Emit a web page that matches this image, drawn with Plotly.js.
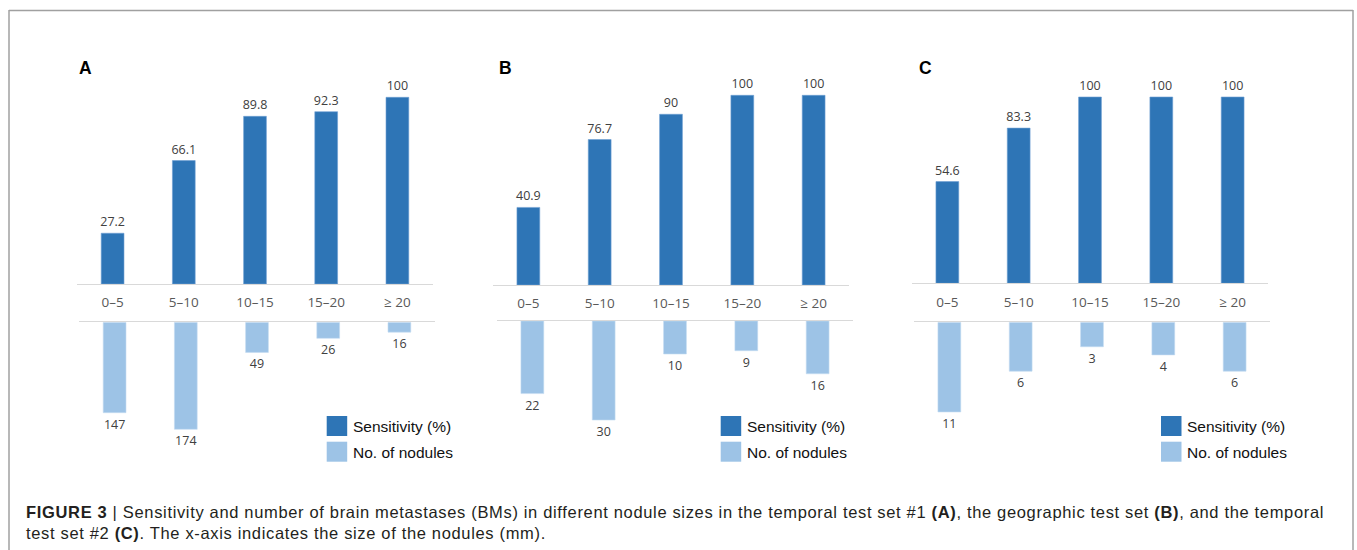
<!DOCTYPE html>
<html><head><meta charset="utf-8">
<script src="https://cdn.plot.ly/plotly-3.0.1.min.js"></script>
<style>html,body{margin:0;padding:0;background:#fff;}#chart{width:1357px;height:550px;}</style>
</head><body><div id="chart"></div>
<script>
// ---- data ----
const categories = ['0–5', '5–10', '10–15', '15–20', '≥ 20'];
const sensitivityA = [27.2, 66.1, 89.8, 92.3, 100];
const nodulesA = [147, 174, 49, 26, 16];
const sensitivityB = [40.9, 76.7, 90, 100, 100];
const nodulesB = [22, 30, 10, 9, 16];
const sensitivityC = [54.6, 83.3, 100, 100, 100];
const nodulesC = [11, 6, 3, 4, 6];
const panelLabels = ['A', 'B', 'C'];
const legendLabels = ['Sensitivity (%)', 'No. of nodules'];

// ---- geometry (pixels) ----
const W = 1357, H = 550;
const fx = p => p / W, fy = p => 1 - p / H;
const geo = [
  {ux:[77,433],    lx:[79,435],     base:284,   ppuU:1.867, line:322.3, ppuL:0.615, letterX:77,  legX:326.7},
  {ux:[492.7,849.3], lx:[496.7,853.3], base:285, ppuU:1.897, line:321,  ppuL:3.30,  letterX:497.5, legX:720.7},
  {ux:[911.7,1268.3], lx:[913.7,1270.3], base:283.3, ppuU:1.863, line:322.3, ppuL:8.15, letterX:916.5, legX:1161}
];
const TOP = 60, BOT = 480;
const dark = '#2E75B6', light = '#9DC3E6';
const sens = [sensitivityA, sensitivityB, sensitivityC];
const nods = [nodulesA, nodulesB, nodulesC];

const data = [];
const layout = {
  width: W, height: H, margin: {l:0, r:0, t:0, b:0},
  paper_bgcolor: '#fff', plot_bgcolor: 'rgba(0,0,0,0)',
  showlegend: false, bargap: 0.68,
  shapes: [], annotations: []
};
const labelFont = {family: 'Open Sans', size: 12.5, color: '#404040'};

geo.forEach((g, i) => {
  const nu = 2 * i + 1, nl = 2 * i + 2;
  data.push({
    type: 'bar', x: categories, y: sens[i], xaxis: 'x' + nu, yaxis: 'y' + nu,
    marker: {color: dark, line: {color: '#6fa0d4', width: 0.6}},
    text: sens[i].map(String), textposition: 'outside', constraintext: 'none',
    textfont: labelFont, cliponaxis: false, hoverinfo: 'x+y'
  });
  data.push({
    type: 'bar', x: categories, y: nods[i], xaxis: 'x' + nl, yaxis: 'y' + nl,
    marker: {color: light, line: {color: '#c5dcf1', width: 0.6}},
    text: nods[i].map(String), textposition: 'outside', constraintext: 'none',
    textfont: labelFont, cliponaxis: false, hoverinfo: 'x+y'
  });
  layout['xaxis' + nu] = {
    domain: [fx(g.ux[0]), fx(g.ux[1])], anchor: 'y' + nu, type: 'category',
    showline: true, linecolor: '#d9d9d9', linewidth: 1, ticks: '', showgrid: false,
    zeroline: false, tickfont: {family: 'Open Sans', size: 13.5, color: '#595959'},
    ticklabelstandoff: 6, fixedrange: true
  };
  layout['yaxis' + nu] = {
    domain: [fy(g.base), fy(TOP)], anchor: 'x' + nu,
    range: [0, (g.base - TOP) / g.ppuU], visible: false, fixedrange: true
  };
  layout['xaxis' + nl] = {
    domain: [fx(g.lx[0]), fx(g.lx[1])], anchor: 'y' + nl, type: 'category', side: 'top',
    showline: true, linecolor: '#d9d9d9', linewidth: 1, ticks: '', showticklabels: false,
    showgrid: false, zeroline: false, fixedrange: true
  };
  layout['yaxis' + nl] = {
    domain: [fy(BOT), fy(g.line)], anchor: 'x' + nl,
    range: [(BOT - g.line) / g.ppuL, 0], visible: false, fixedrange: true
  };
  // panel letter
  layout.annotations.push({
    xref: 'paper', yref: 'paper', x: fx(g.letterX), y: fy(68.5), xanchor: 'left', yanchor: 'middle',
    text: '<b>' + panelLabels[i] + '</b>', showarrow: false,
    font: {family: 'Liberation Sans', size: 17.5, color: '#000'}
  });
  // legend
  [[416, dark], [441.7, light]].forEach(([ty, col], k) => {
    layout.shapes.push({
      type: 'rect', xref: 'paper', yref: 'paper', x0: fx(g.legX), x1: fx(g.legX + 20.5),
      y0: fy(ty), y1: fy(ty + 20), fillcolor: col, line: {width: 0}
    });
    layout.annotations.push({
      xref: 'paper', yref: 'paper', x: fx(g.legX + 24), y: fy(ty + 10.5), xanchor: 'left', yanchor: 'middle',
      text: legendLabels[k], showarrow: false,
      font: {family: 'Liberation Sans', size: 15.5, color: '#111'}
    });
  });
});

// frame
const frameCol = '#a0a0a0';
layout.shapes.push(
  {type:'line', xref:'paper', yref:'paper', x0:fx(9), x1:fx(1353), y0:fy(10.5), y1:fy(10.5), line:{color:frameCol, width:1.5}},
  {type:'line', xref:'paper', yref:'paper', x0:fx(9), x1:fx(9), y0:fy(10), y1:0, line:{color:frameCol, width:1.5}},
  {type:'line', xref:'paper', yref:'paper', x0:fx(1353), x1:fx(1353), y0:fy(10), y1:0, line:{color:frameCol, width:1.5}}
);
// caption
const capFont = {family: 'Liberation Sans', size: 16.5, color: '#231f20'};
const sp = s => '<span style="letter-spacing:0.66px">' + s + '</span>';
layout.annotations.push(
  {xref:'paper', yref:'paper', x:fx(24), y:fy(511.5), xanchor:'left', yanchor:'middle', showarrow:false, font:capFont,
   text: sp('<b>FIGURE 3</b> | Sensitivity and number of brain metastases (BMs) in different nodule sizes in the temporal test set #1 <b>(A)</b>, the geographic test set <b>(B)</b>, and the temporal')},
  {xref:'paper', yref:'paper', x:fx(24), y:fy(533), xanchor:'left', yanchor:'middle', showarrow:false, font:capFont,
   text: sp('test set #2 <b>(C)</b>. The x-axis indicates the size of the nodules (mm).')}
);

Plotly.newPlot('chart', data, layout, {displayModeBar: false, staticPlot: true});
</script></body></html>
